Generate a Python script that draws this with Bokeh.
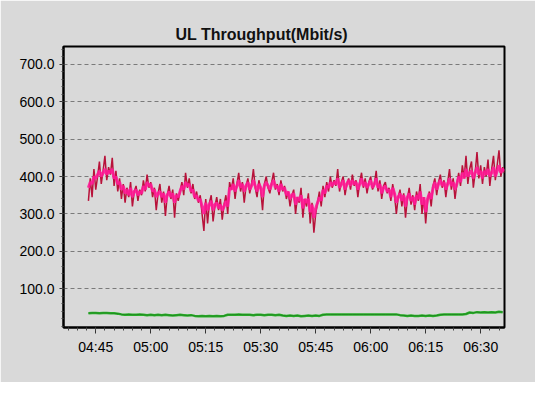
from bokeh.plotting import figure
from bokeh.models import FixedTicker, Range1d, PrintfTickFormatter
from bokeh.embed import file_html
from bokeh.resources import INLINE

# ---------------- data ----------------
title_text = "UL Throughput(Mbit/s)"
x_tick_labels = ["04:45", "05:00", "05:15", "05:30", "05:45", "06:00", "06:15", "06:30"]
y_tick_values = [100, 200, 300, 400, 500, 600, 700]

# sampling: minutes after midnight
start_minute = 283.0
step_fast = 0.5      # red / magenta series (30 s)
step_slow = 1.0      # green series (1 min)

red_values = [
    335, 395, 345, 420, 365, 400, 440, 380, 415, 455,
    390, 425, 405, 450, 375, 415, 360, 395, 340, 380,
    330, 370, 345, 385, 320, 360, 375, 335, 365, 350,
    390, 360, 405, 370, 385, 345, 370, 310, 355, 380,
    330, 360, 295, 350, 375, 340, 365, 290, 355, 335,
    360, 385, 350, 410, 370, 395, 355, 380, 340, 360,
    330, 350, 300, 255, 340, 275, 330, 350, 280, 320,
    345, 310, 340, 285, 325, 350, 300, 385, 365, 395,
    340, 380, 410, 360, 385, 330, 375, 395, 355, 380,
    420, 370, 345, 390, 365, 310, 380, 400, 370, 355,
    385, 410, 365, 380, 350, 390, 360, 375, 340, 360,
    320, 350, 365, 300, 345, 330, 370, 290, 340, 320,
    355, 275, 330, 250, 300, 330, 360, 320, 375, 345,
    385, 360, 400, 370, 390, 375, 420, 360, 385, 400,
    350, 380, 395, 365, 405, 375, 390, 345, 385, 410,
    370, 395, 355, 385, 400, 365, 380, 415, 360, 390,
    340, 375, 385, 355, 370, 335, 380, 350, 300, 345,
    365, 320, 355, 290, 340, 370, 325, 350, 310, 360,
    335, 380, 300, 345, 275, 335, 360, 320, 375, 395,
    350, 385, 405, 370, 390, 345, 385, 420, 365, 395,
    340, 380, 410, 375, 430, 395, 455, 380, 420, 440,
    370, 410, 465, 395, 430, 380, 425, 400, 445, 375,
    420, 455, 390, 430, 470, 400, 425, 410,
]

magenta_values = [
    370, 385, 380, 400, 395, 405, 415, 400, 410, 420,
    405, 415, 410, 420, 395, 400, 380, 385, 365, 375,
    355, 365, 350, 370, 345, 360, 365, 350, 360, 355,
    375, 365, 385, 375, 380, 360, 365, 345, 355, 360,
    345, 355, 330, 350, 360, 345, 355, 330, 350, 345,
    360, 375, 365, 385, 375, 380, 360, 365, 345, 350,
    335, 340, 320, 300, 330, 310, 325, 335, 310, 325,
    330, 315, 325, 310, 320, 335, 320, 370, 365, 380,
    360, 375, 390, 370, 380, 360, 375, 385, 365, 375,
    390, 375, 360, 380, 370, 345, 375, 385, 375, 365,
    380, 390, 370, 375, 360, 380, 365, 370, 350, 360,
    340, 350, 355, 325, 345, 335, 350, 315, 340, 330,
    340, 305, 325, 290, 315, 330, 345, 335, 365, 355,
    375, 370, 385, 375, 385, 380, 395, 370, 380, 390,
    365, 380, 390, 375, 390, 380, 385, 365, 380, 395,
    375, 385, 370, 380, 390, 370, 380, 395, 370, 380,
    355, 370, 375, 360, 365, 345, 370, 355, 330, 345,
    355, 335, 350, 320, 345, 355, 335, 345, 325, 350,
    340, 360, 325, 345, 305, 340, 355, 340, 370, 385,
    365, 380, 390, 375, 385, 365, 380, 395, 375, 385,
    365, 380, 400, 385, 410, 395, 420, 400, 410, 415,
    395, 410, 425, 405, 415, 395, 415, 405, 420, 400,
    410, 425, 400, 415, 430, 410, 420, 415,
]

green_values = [
    35, 36, 36, 35, 36, 36, 35, 35, 34, 32,
    31, 32, 31, 31, 32, 31, 30, 31, 30, 31,
    30, 31, 30, 29, 30, 31, 30, 29, 30, 28,
    27, 28, 27, 28, 27, 28, 27, 28, 31, 31,
    31, 32, 31, 31, 31, 30, 31, 31, 30, 31,
    31, 30, 31, 29, 28, 29, 28, 29, 27, 28,
    29, 28, 29, 28, 31, 32, 32, 32, 32, 32,
    32, 32, 32, 32, 32, 32, 32, 32, 32, 32,
    32, 32, 32, 32, 32, 30, 29, 28, 29, 28,
    28, 29, 28, 29, 28, 29, 31, 32, 32, 32,
    32, 32, 32, 33, 37, 36, 38, 37, 38, 37,
    38, 37, 39, 38,
]

# ---------------- derived x positions ----------------
red_x = [start_minute + step_fast * i for i in range(len(red_values))]
magenta_x = [start_minute + step_fast * i for i in range(len(magenta_values))]
green_x = [start_minute + step_slow * i for i in range(len(green_values))]

def to_minutes(label):
    h, m = label.split(":")
    return int(h) * 60 + int(m)

x_major = [to_minutes(t) for t in x_tick_labels]
x_minor = [x_major[0] - 7.5 + 2.5 * k for k in range(52)]
y_minor = [20 * k for k in range(0, 38)]

# ---------------- figure ----------------
BG = "#d9d9d9"
p = figure(width=535, height=382, output_backend="svg", toolbar_location=None,
           x_range=Range1d(276.2, 396.5), y_range=Range1d(-3, 747),
           min_border_left=63, min_border_right=31, min_border_top=46, min_border_bottom=55)

p.background_fill_color = BG
p.border_fill_color = BG
p.outline_line_color = "black"
p.outline_line_width = 2

p.title.text = title_text
p.title.text_font = "Liberation Sans"
p.title.text_font_size = "16px"
p.title.text_font_style = "bold"
p.title.text_color = "#111111"
p.title.align = "left"
p.title.offset = 112
p.title.standoff = 7

# x axis
p.xaxis.ticker = FixedTicker(ticks=x_major, minor_ticks=x_minor)
p.xaxis.major_label_overrides = {m: t for m, t in zip(x_major, x_tick_labels)}
# y axis
p.yaxis.ticker = FixedTicker(ticks=y_tick_values, minor_ticks=y_minor)
p.yaxis.formatter = PrintfTickFormatter(format="%.1f")

for ax in (p.xaxis, p.yaxis):
    ax.axis_line_color = "black"
    ax.axis_line_width = 2
    ax.major_tick_line_color = "#333333"
    ax.minor_tick_line_color = "#444444"
    ax.major_tick_in = 0
    ax.minor_tick_in = 0
    ax.major_label_text_font = "Liberation Sans"
    ax.major_label_text_font_size = "14px"
    ax.major_label_text_color = "#000000"

p.xaxis.major_tick_out = 6
p.xaxis.minor_tick_out = 3
p.xaxis.major_label_standoff = 5
p.yaxis.major_tick_out = 4
p.yaxis.minor_tick_out = 2
p.yaxis.major_label_standoff = 5

p.xgrid.grid_line_color = None
p.ygrid.grid_line_color = "#7a7a7a"
p.ygrid.grid_line_dash = "4 3"
p.ygrid.grid_line_width = 1

# ---------------- series ----------------
p.line(green_x, green_values, line_color="#2ab52a", line_width=2.5)
p.line(green_x, green_values, line_color="#1f7a1f", line_width=0.8)
p.line(red_x, red_values, line_color="#b8123a", line_width=1.5)
p.line(magenta_x, magenta_values, line_color="#ff1a96", line_width=3, line_alpha=0.9)

open("out.html", "w").write(file_html(p, INLINE))
